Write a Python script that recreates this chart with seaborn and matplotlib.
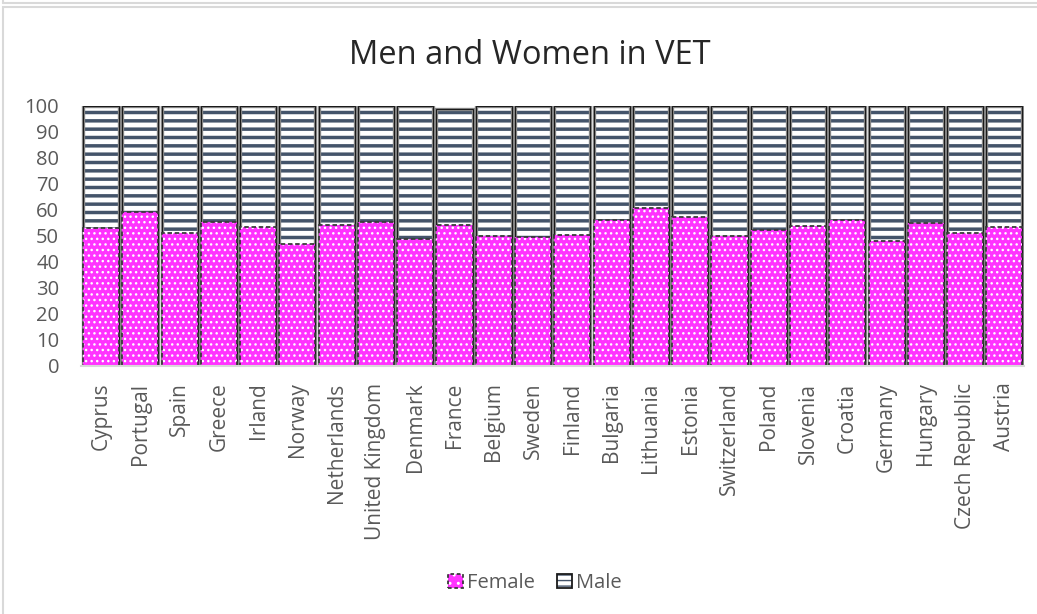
import matplotlib
matplotlib.use("Agg")
import matplotlib.pyplot as plt
from matplotlib.patches import Patch, Rectangle
from matplotlib.lines import Line2D
from matplotlib.legend_handler import HandlerTuple
import seaborn as sns
import pandas as pd

countries = ["Cyprus", "Portugal", "Spain", "Greece", "Irland", "Norway",
             "Netherlands", "United Kingdom", "Denmark", "France", "Belgium",
             "Sweden", "Finland", "Bulgaria", "Lithuania", "Estonia",
             "Switzerland", "Poland", "Slovenia", "Croatia", "Germany",
             "Hungary", "Czech Republic", "Austria"]
female = [53.0, 59.3, 51.3, 55.3, 53.6, 46.8, 54.2, 55.4, 48.8, 54.1, 50.1,
          49.6, 50.5, 56.2, 60.8, 57.4, 50.1, 52.3, 53.8, 56.2, 48.1, 55.0,
          51.0, 53.6]
male = [47.0, 40.7, 48.7, 44.7, 46.4, 53.2, 45.8, 44.6, 51.2, 44.6, 49.9,
        50.4, 49.5, 43.8, 39.2, 42.6, 49.9, 47.7, 46.2, 43.8, 51.9, 45.0,
        49.0, 46.4]
y_ticks = [0, 10, 20, 30, 40, 50, 60, 70, 80, 90, 100]

df = pd.DataFrame({"country": countries, "Female": female, "Male": male})
df["total"] = df["Female"] + df["Male"]

sns.set_theme(style="white")
plt.rcParams["font.family"] = ["Open Sans", "DejaVu Sans"]

MALE_C = "#44546A"
FEMALE_C = "#FF33FF"
TEXT_C = "#595959"
BAR_W = 0.92
STRIPE_LW = 2.5
DOT_LW = 1.0

fig = plt.figure(figsize=(10.37, 6.14), dpi=100)
ax = fig.add_axes([0.0785, 0.404, 0.909, 0.4235])


def bars(col, color="white"):
    """Draw one seaborn bar layer and return the patches it added."""
    n0 = len(ax.patches)
    sns.barplot(data=df, x="country", y=col, color=color, saturation=1,
                width=BAR_W, ax=ax, errorbar=None)
    return ax.patches[n0:]


def set_hatch_lw(p, lw):
    if hasattr(p, "set_hatch_linewidth"):
        p.set_hatch_linewidth(lw)


# Male segment (stacked above female): white with dark horizontal stripes
with plt.rc_context({"hatch.linewidth": STRIPE_LW}):
    for p in bars("total"):
        p.set_facecolor("white")
        p.set_edgecolor(MALE_C)
        p.set_hatch("--")
        p.set_linewidth(0)
        set_hatch_lw(p, STRIPE_LW)

# Male outline: grey band with a thin dark inner line
for p in bars("total"):
    p.set_facecolor("none")
    p.set_edgecolor("#8a8a8a")
    p.set_linewidth(2.4)
for p in bars("total"):
    p.set_facecolor("none")
    p.set_edgecolor("#1a1a1a")
    p.set_linewidth(0.8)

# Female segment: magenta with white dots
with plt.rc_context({"hatch.linewidth": DOT_LW}):
    for p in bars("Female", FEMALE_C):
        p.set_facecolor(FEMALE_C)
        p.set_edgecolor("white")
        p.set_hatch("...")
        p.set_linewidth(0)
        set_hatch_lw(p, DOT_LW)

# Female dashed outline
for p in bars("Female"):
    p.set_facecolor("none")
    p.set_edgecolor("#3a3a3a")
    p.set_linewidth(1.3)
    p.set_linestyle((0, (2.5, 1.5)))

ax.set_ylim(0, 100)
ax.set_xlim(-0.5, len(countries) - 0.5)
ax.set_yticks(y_ticks)
ax.set_yticklabels([str(t) for t in y_ticks])
ax.set_xlabel("")
ax.set_ylabel("")
for s in ["top", "right", "left"]:
    ax.spines[s].set_visible(False)
ax.spines["bottom"].set_color("#D9D9D9")
ax.spines["bottom"].set_linewidth(1.5)
ax.tick_params(axis="y", length=0, pad=16, labelsize=14.5, labelcolor=TEXT_C)
ax.tick_params(axis="x", length=0, pad=12, labelsize=15, labelcolor=TEXT_C,
               rotation=90)
for lbl in ax.get_xticklabels():
    lbl.set_verticalalignment("top")

fig.text(0.511, 0.910, "Men and Women in VET", ha="center", va="center",
         fontsize=23.5, color="#262626")

# Legend swatches: fill layer plus outline layer
with plt.rc_context({"hatch.linewidth": DOT_LW}):
    f_fill = Patch(facecolor=FEMALE_C, edgecolor="white", hatch="..",
                   linewidth=0)
with plt.rc_context({"hatch.linewidth": STRIPE_LW}):
    m_fill = Patch(facecolor="white", edgecolor=MALE_C, hatch="---",
                   linewidth=0)
set_hatch_lw(f_fill, DOT_LW)
set_hatch_lw(m_fill, STRIPE_LW)
f_edge = Patch(facecolor="none", edgecolor="#3a3a3a", linewidth=1.3,
               linestyle=(0, (2, 1.5)))
m_edge = Patch(facecolor="none", edgecolor="#1a1a1a", linewidth=1.3)
leg = fig.legend([(f_fill, f_edge), (m_fill, m_edge)], ["Female", "Male"],
                 handler_map={tuple: HandlerTuple(ndivide=1, pad=0)},
                 loc="center", bbox_to_anchor=(0.516, 0.0505), ncol=2,
                 frameon=False, handlelength=0.75, handleheight=0.75,
                 handletextpad=0.2, columnspacing=1.1, prop={"size": 14.5})
for t in leg.get_texts():
    t.set_color(TEXT_C)

# Chart area frame
W, H = 1037, 614
fig.patches.append(Rectangle((3 / W, -0.1), 1.2, 1 - 7 / H + 0.1,
                             transform=fig.transFigure, facecolor="none",
                             edgecolor="#D9D9D9", linewidth=1.5))
fig.lines.append(Line2D([3 / W, 1.0], [1 - 3 / H, 1 - 3 / H],
                        transform=fig.transFigure, color="#D9D9D9",
                        linewidth=1.5))
fig.lines.append(Line2D([3 / W, 3 / W], [1 - 3 / H, 1.0],
                        transform=fig.transFigure, color="#D9D9D9",
                        linewidth=1.5))

fig.savefig("out.png", dpi=100, facecolor="white")
